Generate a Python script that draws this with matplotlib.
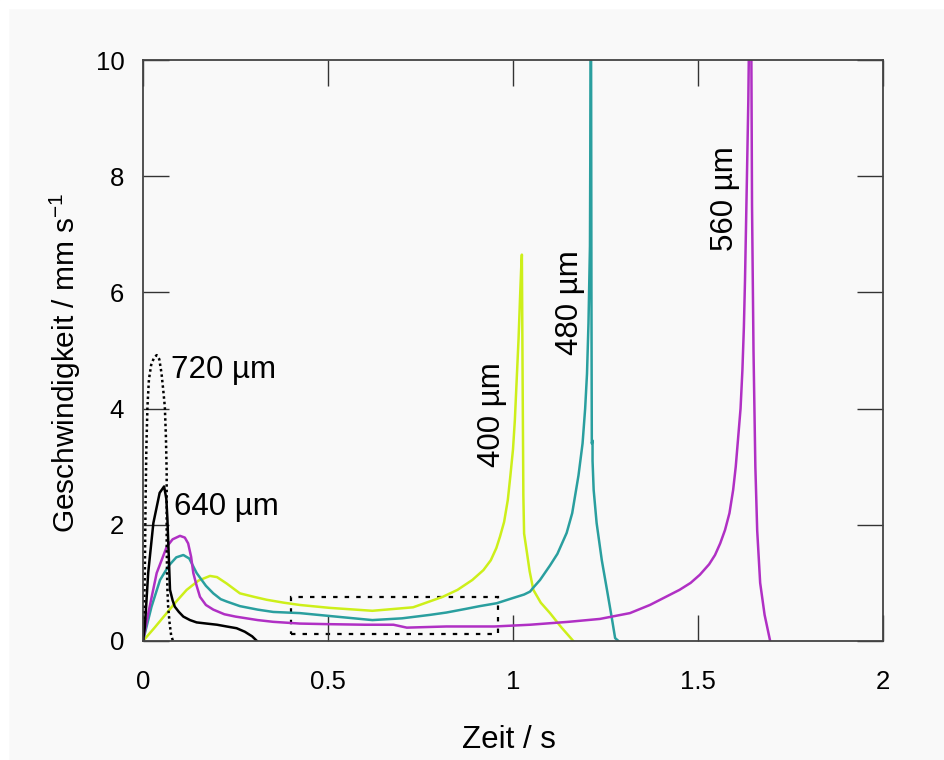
import matplotlib
matplotlib.use("Agg")
import matplotlib.pyplot as plt
from matplotlib.patches import Rectangle

plt.rcParams['font.family'] = ['Liberation Sans', 'DejaVu Sans']
plt.rcParams['mathtext.default'] = 'regular'

# ---- data (time in s, speed in mm/s) ----
t720 = [0, 0.003, 0.005, 0.007, 0.009, 0.012, 0.016, 0.022, 0.03, 0.037, 0.044, 0.05, 0.055,
        0.059, 0.062, 0.064, 0.064, 0.065, 0.066, 0.068, 0.072, 0.076, 0.081]
v720 = [0, 0.5, 1.2, 2.43, 3.3, 4.03, 4.5, 4.75, 4.88, 4.92, 4.85, 4.61, 4.3,
        4.03, 3.5, 2.89, 1.74, 1.17, 0.88, 0.59, 0.3, 0.1, 0.0]

t640 = [0, 0.005, 0.014, 0.028, 0.045, 0.057, 0.063, 0.066, 0.068, 0.073, 0.08, 0.086, 0.097,
        0.109, 0.127, 0.145, 0.172, 0.2, 0.226, 0.253, 0.275, 0.295, 0.308]
v640 = [0, 0.24, 1.17, 2.03, 2.55, 2.66, 2.45, 2.1, 1.74, 0.88, 0.7, 0.59, 0.5,
        0.42, 0.36, 0.32, 0.3, 0.28, 0.25, 0.22, 0.16, 0.08, 0.0]

t560 = [0, 0.015, 0.037, 0.064, 0.08, 0.1, 0.113, 0.122, 0.13, 0.136, 0.145, 0.154, 0.17, 0.19,
        0.22, 0.25, 0.31, 0.352, 0.424, 0.5, 0.6, 0.677, 0.713, 0.82, 0.95, 1.046, 1.15, 1.235,
        1.316, 1.37, 1.41, 1.45, 1.48, 1.505, 1.53, 1.546, 1.56, 1.573, 1.585, 1.595, 1.602,
        1.608, 1.615, 1.62, 1.624, 1.627, 1.632, 1.636, 1.638, 1.644, 1.646, 1.65, 1.655, 1.66,
        1.668, 1.68, 1.695]
v560 = [0, 0.5, 1.17, 1.62, 1.75, 1.81, 1.78, 1.68, 1.45, 1.17, 0.95, 0.76, 0.62, 0.54,
        0.46, 0.42, 0.36, 0.33, 0.30, 0.29, 0.28, 0.28, 0.23, 0.25, 0.25, 0.28, 0.33, 0.38,
        0.48, 0.62, 0.75, 0.88, 1.0, 1.14, 1.32, 1.48, 1.68, 1.91, 2.2, 2.6, 3.0,
        3.46, 4.0, 4.66, 5.4, 6.2, 7.9, 9.3, 10.4, 10.4, 7.5, 5.0, 3.0, 1.9,
        1.0, 0.45, 0.0]

t480 = [0, 0.023, 0.046, 0.07, 0.09, 0.109, 0.125, 0.145, 0.17, 0.19, 0.21, 0.226, 0.262, 0.31,
        0.352, 0.424, 0.505, 0.62, 0.7, 0.776, 0.82, 0.87, 0.91, 0.956, 1.0, 1.03, 1.046, 1.055,
        1.073, 1.1, 1.12, 1.145, 1.16, 1.177, 1.188, 1.195, 1.2, 1.204, 1.208, 1.210,
        1.211, 1.212, 1.213, 1.215, 1.215, 1.218, 1.226, 1.24, 1.254, 1.268, 1.276, 1.285]
v480 = [0, 0.59, 1.05, 1.3, 1.44, 1.48, 1.42, 1.17, 0.95, 0.82, 0.72, 0.68, 0.6, 0.54,
        0.5, 0.48, 0.43, 0.36, 0.39, 0.45, 0.49, 0.55, 0.6, 0.65, 0.74, 0.8, 0.85, 0.92,
        1.05, 1.3, 1.5, 1.86, 2.2, 2.85, 3.4, 4.0, 4.6, 5.47, 6.8, 10.3,
        10.3, 6.0, 3.4, 3.45, 3.1, 2.6, 2.03, 1.39, 0.88, 0.36, 0.05, 0.0]

t400 = [0, 0.03, 0.064, 0.09, 0.118, 0.15, 0.181, 0.2, 0.226, 0.245, 0.262, 0.3, 0.334, 0.38,
        0.424, 0.505, 0.62, 0.73, 0.81, 0.85, 0.89, 0.92, 0.94, 0.955, 0.965, 0.976, 0.986,
        0.993, 1.0, 1.005, 1.01, 1.015, 1.019, 1.022, 1.024, 1.026, 1.028, 1.03, 1.037, 1.045,
        1.055, 1.075, 1.1, 1.13, 1.163]
v400 = [0, 0.22, 0.48, 0.68, 0.88, 1.04, 1.12, 1.1, 0.99, 0.9, 0.82, 0.76, 0.71, 0.66,
        0.62, 0.57, 0.52, 0.58, 0.76, 0.88, 1.05, 1.22, 1.39, 1.6, 1.8, 2.05, 2.43,
        2.85, 3.3, 3.8, 4.5, 5.2, 5.9, 6.4, 6.65, 4.5, 2.5, 1.85, 1.55, 1.2,
        0.88, 0.66, 0.48, 0.24, 0.0]

box_x = [0.4, 0.96]
box_y = [0.12, 0.76]

xticks = [0, 0.5, 1, 1.5, 2]
xticklabels = ['0', '0.5', '1', '1.5', '2']
yticks = [0, 2, 4, 6, 8, 10]

labels = ['720 µm', '640 µm', '400 µm', '480 µm', '560 µm']
label_pos = [(0.077, 4.53), (0.085, 2.17), (0.942, 3.90), (1.155, 5.83), (1.573, 7.62)]
label_rot = [0, 0, 90, 90, 90]

c_yellow = '#cdef1a'
c_teal = '#2a9f9f'
c_mag = '#b030c4'

# ---- figure ----
fig = plt.figure(figsize=(9.44, 7.6), dpi=100, facecolor='#f9f9f9')
fig.patches.append(Rectangle((0, 0), 8 / 944, 1, transform=fig.transFigure, color='white', zorder=0))
fig.patches.append(Rectangle((0, 1 - 8 / 760), 1, 8 / 760, transform=fig.transFigure, color='white', zorder=0))
ax = fig.add_axes([143 / 944, 1 - 641 / 760, 740 / 944, 581 / 760])
ax.set_facecolor('#f9f9f9')

lw = 1.8
ax.plot(t400, v400, color=c_yellow, lw=lw)
ax.plot(t480, v480, color=c_teal, lw=lw)
ax.plot(t560, v560, color=c_mag, lw=lw)
ax.plot(t640, v640, color='black', lw=lw)
ax.plot(t720, v720, color='black', lw=lw, linestyle=(0, (1, 1.2)))

ax.add_patch(Rectangle((box_x[0], box_y[0]), box_x[1] - box_x[0], box_y[1] - box_y[0],
                       fill=False, edgecolor='black', lw=1.6, linestyle=(0, (2, 3.2))))

for txt, (x, y), r in zip(labels, label_pos, label_rot):
    if r == 0:
        ax.text(x, y, txt, fontsize=22.5, ha='left', va='baseline', rotation=0)
    else:
        ax.text(x, y, txt, fontsize=22.5, ha='center', va='center', rotation=90)

ax.set_xlim(0, 2)
ax.set_ylim(0, 10)
ax.set_xticks(xticks)
ax.set_xticklabels(xticklabels)
ax.set_yticks(yticks)
ax.tick_params(direction='in', length=19, width=1.0, color='#333333',
               top=True, right=True, labelsize=18.5)
ax.tick_params(axis='x', pad=21)
ax.tick_params(axis='y', pad=13.5)
for s in ax.spines.values():
    s.set_color('#444444')
    s.set_linewidth(1.3)

fig.text(509 / 944, 1 - 748 / 760, 'Zeit / s', fontsize=22.5, ha='center', va='baseline')
fig.text(65 / 944, 1 - 363 / 760, 'Geschwindigkeit / mm s$^{-1}$', fontsize=21.5,
         ha='center', va='center', rotation=90)

fig.savefig('out.png', dpi=100, facecolor=fig.get_facecolor())
